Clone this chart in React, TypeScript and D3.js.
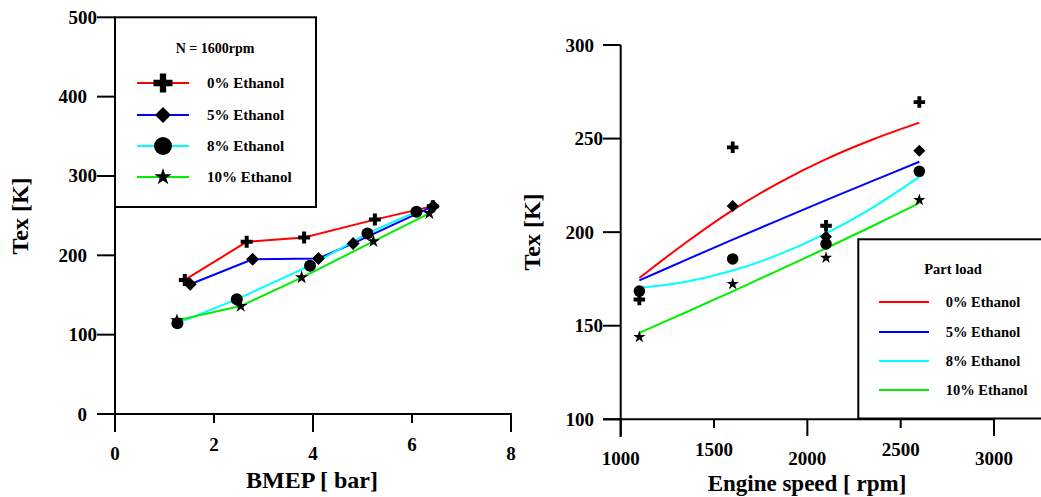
import React from "react";
import * as d3 from "d3";

// ---------- Left chart data (N = 1600 rpm) ----------
const bmep0 = [1.41, 2.66, 3.82, 5.25, 6.42];
const texB0 = [169, 217, 222.5, 245, 262];
const bmep5 = [1.52, 2.78, 4.11, 4.81, 6.43];
const texB5 = [163.5, 195, 196, 215, 262];
const bmep8 = [1.26, 2.46, 3.94, 5.1, 6.09];
const texB8 = [114.5, 144.5, 187, 227.5, 255];
const bmep10 = [1.25, 2.54, 3.77, 5.22, 6.35];
const texB10 = [118, 136, 172, 217.5, 253];

const leftXTicks = [0, 2, 4, 6, 8];
const leftYTicks = [0, 100, 200, 300, 400, 500];

// ---------- Right chart data (part load) ----------
const speeds = [1100, 1600, 2100, 2600];
const meas0 = [164, 245.3, 203.4, 269.5];
const meas5: (number | null)[] = [null, 214, 197.6, 243.5];
const meas8 = [168.5, 185.7, 193.7, 232.5];
const meas10 = [144, 172.3, 186.3, 217.2];

const fitSpeeds = [1100, 1350, 1600, 1850, 2100, 2350, 2600];
const fit0 = [175.5, 194.5, 211.8, 226.5, 239, 249.5, 258.5];
const fit5 = [174.2, 185.2, 196, 206.6, 217.1, 227.4, 237.6];
const fit8 = [170.2, 173.5, 179.5, 188.1, 199.3, 213.1, 229.5];
const fit10 = [146.2, 157.2, 168.4, 179.8, 191.4, 203.3, 215.5];

const rightXTicks = [1000, 1500, 2000, 2500, 3000];
const rightYTicks = [100, 150, 200, 250, 300];

const seriesNames = ["0% Ethanol", "5% Ethanol", "8% Ethanol", "10% Ethanol"];
const seriesColors = ["#ff0000", "#0000ff", "#00ffff", "#00ee00"];

const FONT = "'Liberation Serif', 'Times New Roman', serif";

type Shape = "cross" | "diamond" | "circle" | "star";
const shapes: Shape[] = ["cross", "diamond", "circle", "star"];

function markerPath(shape: Shape, scale: number): string {
  const w = scale;
  if (shape === "cross") return d3.symbol(d3.symbolCross, (5 * w * w) / 9)()!;
  if (shape === "diamond") {
    const h = w / 2;
    return `M0,${-h}L${h},0L0,${h}L${-h},0Z`;
  }
  if (shape === "circle") return d3.symbol(d3.symbolCircle, Math.PI * (w / 2) * (w / 2))()!;
  const r = w / 2;
  return d3.symbol(d3.symbolStar, (r * r) / 0.8908)()!;
}

function Marker({ x, y, shape, size }: { x: number; y: number; shape: Shape; size: number }) {
  return <path d={markerPath(shape, size)} transform={`translate(${x},${y})`} fill="#000" />;
}

function LeftChart() {
  const x = d3.scaleLinear().domain([0, 8]).range([115, 511]);
  const y = d3.scaleLinear().domain([0, 500]).range([414, 17.3]);
  const xs = [bmep0, bmep5, bmep8, bmep10];
  const ys = [texB0, texB5, texB8, texB10];
  const line = d3.line<[number, number]>().x((d) => x(d[0])).y((d) => y(d[1]));
  const markerSizes = [12, 13, 12, 14];
  const legendRows = [83, 115, 146, 177];
  const legSizes = [19, 16, 18, 18];
  return (
    <g>
      <rect x={115} y={17.3} width={201} height={189.7} fill="#fff" stroke="#000" strokeWidth={2} />
      <text x={215} y={48} textAnchor="middle" dominantBaseline="central" fontFamily={FONT} fontWeight="bold" fontSize={14}>
        N = 1600rpm
      </text>
      {seriesNames.map((n, i) => (
        <g key={n}>
          <line x1={137} x2={189} y1={legendRows[i]} y2={legendRows[i]} stroke={seriesColors[i]} strokeWidth={2} />
          <Marker x={163} y={legendRows[i]} shape={shapes[i]} size={legSizes[i]} />
          <text x={207} y={legendRows[i]} dominantBaseline="central" fontFamily={FONT} fontWeight="bold" fontSize={15}>
            {n}
          </text>
        </g>
      ))}
      <line x1={115} x2={115} y1={y(500)} y2={431} stroke="#000" strokeWidth={2} />
      <line x1={97} x2={x(8) + 1} y1={y(0)} y2={y(0)} stroke="#000" strokeWidth={2} />
      {leftYTicks.map((t, i) => (
        <g key={t}>
          <line x1={97} x2={115} y1={y(t)} y2={y(t)} stroke="#000" strokeWidth={2} />
          <text
            x={i % 2 === 0 ? 87 : 97}
            y={y(t)}
            textAnchor="end"
            dominantBaseline="central"
            fontFamily={FONT}
            fontWeight="bold"
            fontSize={19}
          >
            {t}
          </text>
        </g>
      ))}
      {leftXTicks.map((t, i) => (
        <g key={t}>
          <line x1={x(t)} x2={x(t)} y1={y(0)} y2={i % 2 === 0 ? 432 : 423} stroke="#000" strokeWidth={2} />
          <text
            x={x(t)}
            y={i % 2 === 0 ? 453 : 444}
            textAnchor="middle"
            dominantBaseline="central"
            fontFamily={FONT}
            fontWeight="bold"
            fontSize={19}
          >
            {t}
          </text>
        </g>
      ))}
      <text x={312} y={480} textAnchor="middle" dominantBaseline="central" fontFamily={FONT} fontWeight="bold" fontSize={24}>
        BMEP [ bar]
      </text>
      <text
        transform="translate(20,216) rotate(-90)"
        textAnchor="middle"
        dominantBaseline="central"
        fontFamily={FONT}
        fontWeight="bold"
        fontSize={24}
      >
        Tex [K]
      </text>
      {xs.map((xv, i) => (
        <path
          key={"l" + i}
          d={line(xv.map((v, j) => [v, ys[i][j]] as [number, number]))!}
          fill="none"
          stroke={seriesColors[i]}
          strokeWidth={2}
        />
      ))}
      {xs.map((xv, i) =>
        xv.map((v, j) => <Marker key={`m${i}-${j}`} x={x(v)} y={y(ys[i][j])} shape={shapes[i]} size={markerSizes[i]} />)
      )}
    </g>
  );
}

function RightChart() {
  const x = d3.scaleLinear().domain([1000, 3000]).range([620.7, 994]);
  const y = d3.scaleLinear().domain([100, 300]).range([419.3, 45]);
  const fits = [fit0, fit5, fit8, fit10];
  const meas = [meas0, meas5, meas8, meas10];
  const line = d3
    .line<[number, number]>()
    .x((d) => x(d[0]))
    .y((d) => y(d[1]))
    .curve(d3.curveCatmullRom);
  const markerSizes = [11.5, 12, 11.5, 13];
  const legendRows = [302, 332, 361, 390];
  return (
    <g>
      <line x1={620.7} x2={620.7} y1={y(300)} y2={437} stroke="#000" strokeWidth={2} />
      <line x1={603} x2={x(3000) + 1} y1={y(100)} y2={y(100)} stroke="#000" strokeWidth={2} />
      {rightYTicks.map((t, i) => (
        <g key={t}>
          <line x1={603} x2={620.7} y1={y(t)} y2={y(t)} stroke="#000" strokeWidth={2} />
          <text
            x={i % 2 === 0 ? 594 : 603}
            y={y(t)}
            textAnchor="end"
            dominantBaseline="central"
            fontFamily={FONT}
            fontWeight="bold"
            fontSize={19}
          >
            {t}
          </text>
        </g>
      ))}
      {rightXTicks.map((t, i) => (
        <g key={t}>
          <line x1={x(t)} x2={x(t)} y1={y(100)} y2={i % 2 === 0 ? 436 : 428} stroke="#000" strokeWidth={2} />
          <text
            x={x(t)}
            y={i % 2 === 0 ? 458 : 449}
            textAnchor="middle"
            dominantBaseline="central"
            fontFamily={FONT}
            fontWeight="bold"
            fontSize={19}
          >
            {t}
          </text>
        </g>
      ))}
      <text x={807} y={483} textAnchor="middle" dominantBaseline="central" fontFamily={FONT} fontWeight="bold" fontSize={23}>
        Engine speed [ rpm]
      </text>
      <text
        transform="translate(532,232) rotate(-90)"
        textAnchor="middle"
        dominantBaseline="central"
        fontFamily={FONT}
        fontWeight="bold"
        fontSize={24}
      >
        Tex [K]
      </text>
      {fits.map((f, i) => (
        <path
          key={"f" + i}
          d={line(fitSpeeds.map((s, j) => [s, f[j]] as [number, number]))!}
          fill="none"
          stroke={seriesColors[i]}
          strokeWidth={2}
        />
      ))}
      {meas.map((m, i) =>
        m.map((v, j) =>
          v == null ? null : (
            <Marker key={`r${i}-${j}`} x={x(speeds[j])} y={y(v)} shape={shapes[i]} size={markerSizes[i]} />
          )
        )
      )}
      <rect x={858.3} y={239.3} width={190} height={179.2} fill="#fff" stroke="#000" strokeWidth={2} />
      <text x={953} y={269} textAnchor="middle" dominantBaseline="central" fontFamily={FONT} fontWeight="bold" fontSize={14.5}>
        Part load
      </text>
      {seriesNames.map((n, i) => (
        <g key={n}>
          <line x1={879} x2={929} y1={legendRows[i]} y2={legendRows[i]} stroke={seriesColors[i]} strokeWidth={2} />
          <text x={945.7} y={legendRows[i]} dominantBaseline="central" fontFamily={FONT} fontWeight="bold" fontSize={14.5}>
            {n}
          </text>
        </g>
      ))}
    </g>
  );
}

export default function App() {
  return (
    <svg
      width={1041}
      height={497}
      viewBox="0 0 1041 497"
      style={{ position: "absolute", left: 0, top: 0, background: "#fff" }}
    >
      <rect x={0} y={0} width={1041} height={497} fill="#fff" />
      <LeftChart />
      <RightChart />
    </svg>
  );
}
